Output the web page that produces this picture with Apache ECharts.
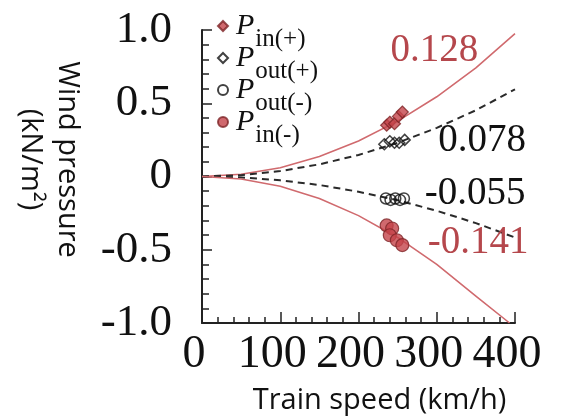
<!DOCTYPE html>
<html>
<head>
<meta charset="utf-8">
<script src="https://cdn.jsdelivr.net/npm/echarts@6/dist/echarts.min.js"></script>
<style>html,body{margin:0;padding:0;background:#fff;}#c{width:567px;height:420px;}</style>
</head>
<body>
<div id="c"></div>
<script>
// ---- data ----
const xTickLabels = ['0', '100', '200', '300', '400'];
const yTickLabels = ['-1.0', '-0.5', '0', '0.5', '1.0'];
const yTickValues = [-1, -0.5, 0, 0.5, 1];

const fitSpeeds = [0, 50, 100, 150, 200, 250, 300, 350, 400];
const fitInPlus = [0, 0.015, 0.060, 0.136, 0.242, 0.378, 0.544, 0.741, 0.975];
const fitOutPlus = [0, 0.009, 0.037, 0.083, 0.147, 0.230, 0.332, 0.452, 0.595];
const fitOutMinus = [0, -0.006, -0.026, -0.058, -0.104, -0.162, -0.234, -0.318, -0.416];
const fitInMinusSpeeds = [0, 50, 100, 150, 200, 250, 300, 350, 393];
const fitInMinus = [0, -0.017, -0.067, -0.150, -0.267, -0.416, -0.600, -0.816, -1.0];

const coefLabels = ['0.128', '0.078', '-0.055', '-0.141'];

const seriesNames = ['Pin(+)', 'Pout(+)', 'Pout(-)', 'Pin(-)'];
const inPlusSpeed = [236, 240, 246, 251, 256];
const inPlusVal = [0.35, 0.37, 0.36, 0.41, 0.44];
const outPlusSpeed = [233, 240, 246, 252, 259];
const outPlusVal = [0.22, 0.24, 0.23, 0.23, 0.25];
const outMinusSpeed = [235, 241, 247, 253, 258];
const outMinusVal = [-0.15, -0.16, -0.15, -0.16, -0.15];
const inMinusSpeed = [236, 243, 240, 249, 256];
const inMinusVal = [-0.334, -0.355, -0.401, -0.435, -0.468];

// ---- build ----
const zip = (xs, ys) => xs.map((x, i) => [x, ys[i]]);
const RED_LINE = '#d06a6e';
const RED_FILL = '#c4434a';
const RED_EDGE = '#7d2427';
const RED_TEXT = '#b5474c';
const DARK = '#2a2a2a';
const SERIF = 'Liberation Serif';
const SANS = 'Open Sans';

function coefMark(text, coord, color) {
  return {
    symbol: 'circle', symbolSize: 1, silent: true,
    itemStyle: { color: 'rgba(0,0,0,0)' },
    label: { show: true, position: 'inside', formatter: text, color: color,
             fontFamily: SERIF, fontSize: 39 },
    data: [{ coord: coord }]
  };
}

const chart = echarts.init(document.getElementById('c'), null, { renderer: 'canvas' });
chart.setOption({
  animation: false,
  backgroundColor: '#fff',
  grid: { left: 202, right: 52, top: 30, bottom: 91 },
  legend: {
    data: seriesNames,
    orient: 'vertical',
    left: 217, top: 0,
    padding: 0,
    itemGap: -20,
    itemWidth: 10, itemHeight: 10,
    formatter: n => '{p|P}{s|' + n.slice(1) + '}',
    textStyle: {
      color: '#111',
      lineHeight: 52,
      rich: {
        p: { fontFamily: SERIF, fontStyle: 'italic', fontSize: 30, padding: [11, 1, 0, 3], verticalAlign: 'top', color: '#111' },
        s: { fontFamily: SERIF, fontSize: 25, verticalAlign: 'bottom', color: '#111' }
      }
    }
  },
  xAxis: {
    type: 'value', min: 0, max: 400, interval: 100,
    name: 'Train speed (km/h)', nameLocation: 'middle', nameGap: 63,
    nameTextStyle: { fontFamily: SANS, fontSize: 29, color: '#111', padding: [0, 0, 0, 42] },
    axisLine: { show: true, onZero: false, lineStyle: { color: '#222', width: 2 } },
    axisTick: { show: true, inside: true, length: 11, lineStyle: { color: '#222', width: 1.5 } },
    minorTick: { show: true, splitNumber: 5, length: 6, lineStyle: { color: '#222', width: 1.5 } },
    splitLine: { show: false },
    axisLabel: {
      margin: 9, fontFamily: SERIF, fontSize: 46, color: '#111',
      padding: [0, 16, 0, 0],
      formatter: v => xTickLabels[Math.round(v / 100)]
    }
  },
  yAxis: {
    type: 'value', min: -1, max: 1, interval: 0.5,
    name: 'Wind pressure\n(kN/m²)', nameLocation: 'middle', nameGap: 116, nameRotate: -90,
    nameTextStyle: { fontFamily: SANS, fontSize: 29, lineHeight: 37, color: '#111', padding: [0, 34, 0, 0] },
    axisLine: { show: true, onZero: false, lineStyle: { color: '#222', width: 2 } },
    axisTick: { show: true, inside: true, length: 10, lineStyle: { color: '#222', width: 1.5 } },
    minorTick: { show: true, splitNumber: 5, length: 7, lineStyle: { color: '#222', width: 1.5 } },
    splitLine: { show: false },
    axisLabel: {
      margin: 30, fontFamily: SERIF, fontSize: 45, color: '#111',
      formatter: v => yTickLabels[yTickValues.findIndex(t => Math.abs(t - v) < 1e-6)]
    }
  },
  series: [
    { type: 'line', name: 'fitInPlus', data: zip(fitSpeeds, fitInPlus), showSymbol: false, symbol: 'none',
      lineStyle: { color: RED_LINE, width: 1.6 }, clip: true, silent: true, z: 1,
      markPoint: coefMark(coefLabels[0], [297, 0.86], RED_TEXT) },
    { type: 'line', name: 'fitOutPlus', data: zip(fitSpeeds, fitOutPlus), showSymbol: false, symbol: 'none',
      lineStyle: { color: DARK, width: 2, type: [7, 5] }, clip: true, silent: true, z: 1,
      markPoint: coefMark(coefLabels[1], [358, 0.244], '#111') },
    { type: 'line', name: 'fitOutMinus', data: zip(fitSpeeds, fitOutMinus), showSymbol: false, symbol: 'none',
      lineStyle: { color: DARK, width: 2, type: [7, 5] }, clip: true, silent: true, z: 1,
      markPoint: coefMark(coefLabels[2], [349, -0.117], '#111') },
    { type: 'line', name: 'fitInMinus', data: zip(fitInMinusSpeeds, fitInMinus), showSymbol: false, symbol: 'none',
      lineStyle: { color: RED_LINE, width: 1.6 }, clip: true, silent: true, z: 1,
      markPoint: coefMark(coefLabels[3], [353, -0.452], RED_TEXT) },
    { type: 'scatter', name: seriesNames[0], data: zip(inPlusSpeed, inPlusVal), symbol: 'diamond', symbolSize: 12,
      itemStyle: { color: RED_FILL, borderColor: RED_EDGE, borderWidth: 1.2 }, z: 3 },
    { type: 'scatter', name: seriesNames[1], data: zip(outPlusSpeed, outPlusVal), symbol: 'diamond', symbolSize: 11,
      itemStyle: { color: 'rgba(255,255,255,0)', borderColor: '#111', borderWidth: 1.5 }, z: 3 },
    { type: 'scatter', name: seriesNames[2], data: zip(outMinusSpeed, outMinusVal), symbol: 'circle', symbolSize: 11,
      itemStyle: { color: 'rgba(255,255,255,0)', borderColor: '#111', borderWidth: 1.5 }, z: 3 },
    { type: 'scatter', name: seriesNames[3], data: zip(inMinusSpeed, inMinusVal), symbol: 'circle', symbolSize: 13,
      itemStyle: { color: RED_FILL, borderColor: RED_EDGE, borderWidth: 1.2 }, z: 3 }
  ]
});
</script>
</body>
</html>
